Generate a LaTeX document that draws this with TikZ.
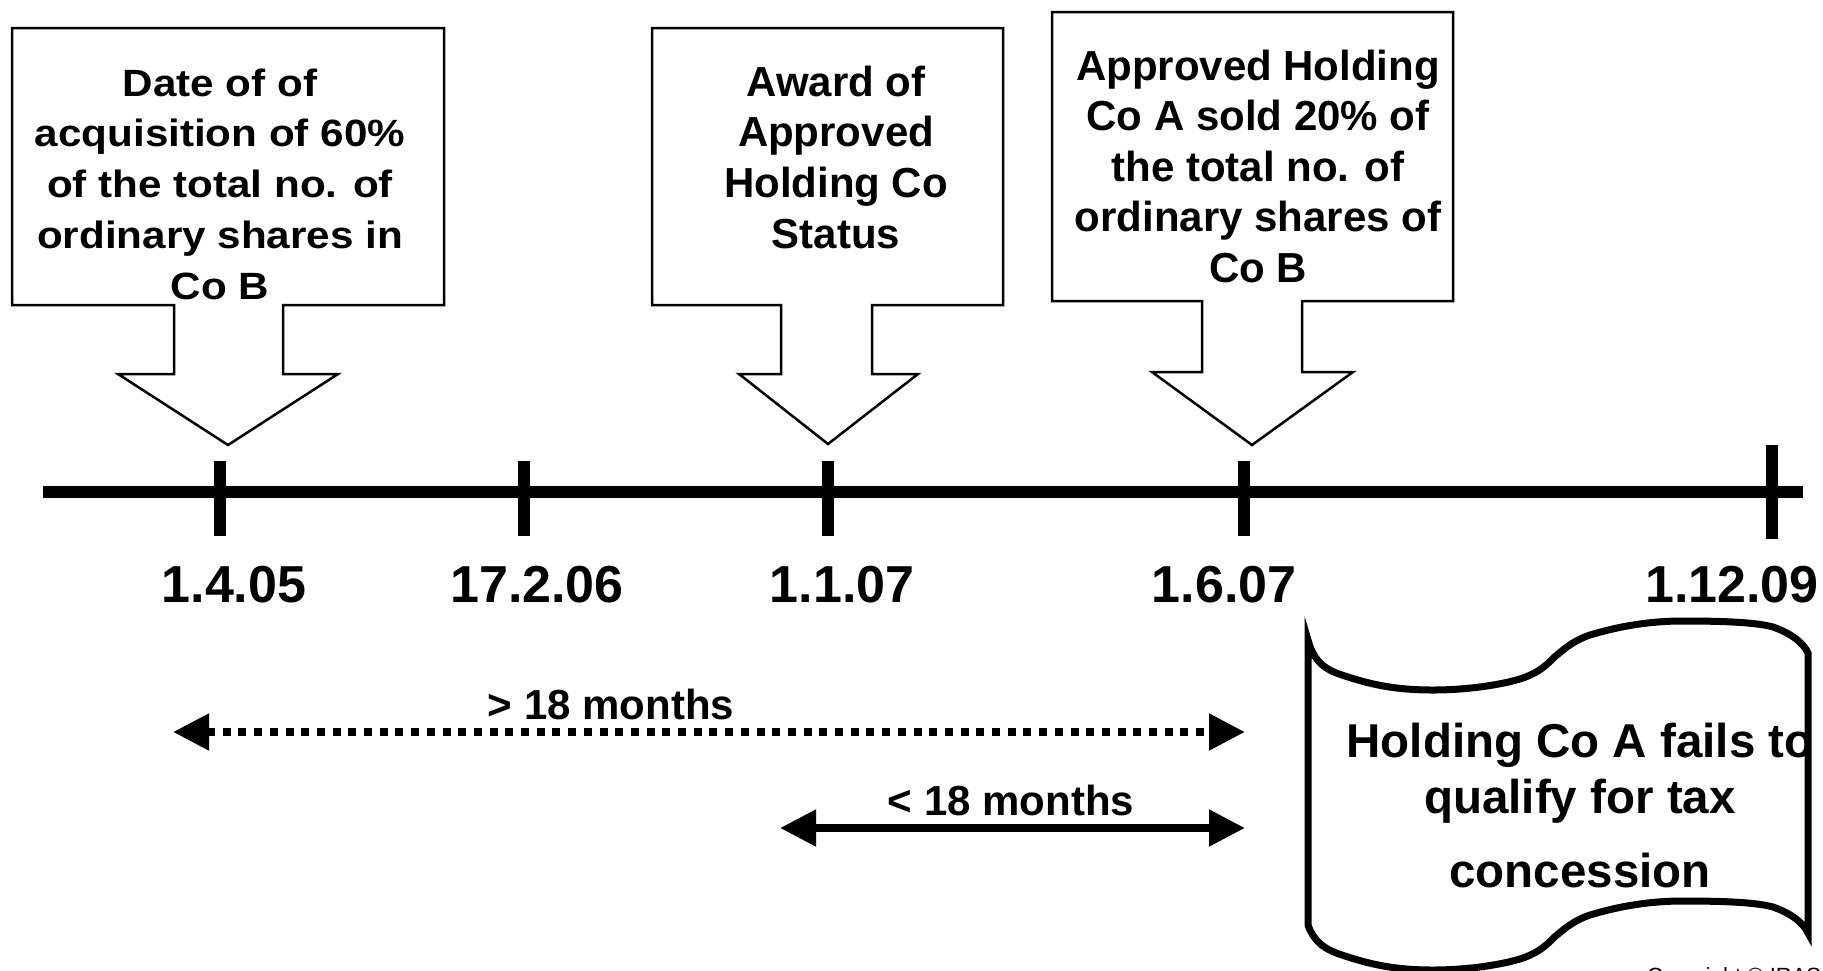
\documentclass[tikz,border=0pt]{standalone}
\usepackage{fontspec}
\setmainfont{Liberation Sans}
\newfontfamily\widefont[FakeStretch=1.11]{Liberation Sans}
\usetikzlibrary{arrows.meta}
\begin{document}
\begin{tikzpicture}[x=1pt,y=-1pt,
  callout/.style={draw=black, line width=2.5pt, fill=white, line join=miter},
  boxtext/.style={font=\fontsize{42}{50.5}\selectfont\bfseries, align=center, inner sep=0pt, anchor=north},
  datelabel/.style={font=\fontsize{52}{60}\selectfont\bfseries, inner sep=0pt, anchor=base},
  spanlabel/.style={font=\fontsize{42}{50}\selectfont\bfseries, inner sep=0pt, anchor=base},
  axisline/.style={line width=12pt},
  tickmark/.style={line width=12pt},
  durarrow/.style={line width=8pt, {Triangle[length=36pt,width=35pt]}-{Triangle[length=36pt,width=35pt]}},
  tapeshape/.style={draw=black, line width=7pt, line join=miter, fill=white}
]
\useasboundingbox (0,0) rectangle (1823,970);
\fill[white] (0,0) rectangle (1823,970);

% timeline
\coordinate (axL) at (43,492);
\coordinate (axR) at (1803,492);
\draw[axisline] (axL) -- (axR);
\coordinate (t1) at (220,492);
\coordinate (t2) at (524,492);
\coordinate (t3) at (828,492);
\coordinate (t4) at (1244,492);
\coordinate (t5) at (1772,492);
\foreach \t in {t1,t2,t3,t4}{
  \draw[tickmark] (\t) ++(0,-31) -- ++(0,75);
}
\draw[tickmark] (t5) ++(0,-47) -- ++(0,94);

% dates
\node[datelabel] (d1) at (234,602) {1.4.05};
\node[datelabel] (d2) at (537,602) {17.2.06};
\node[datelabel] (d3) at (842,602) {1.1.07};
\node[datelabel] (d4) at (1224,602) {1.6.07};
\node[datelabel] (d5) at (1732,602) {1.12.09};

% callout 1
\draw[callout] (12,28) -- (444,28) -- (444,305) -- (283,305) -- (283,374) -- (338,374) -- (228,445) -- (118,374) -- (174,374) -- (174,305) -- (12,305) -- cycle;
\node[boxtext, font=\widefont\fontsize{38}{50.7}\selectfont\bfseries] (c1) at (220,54)
  {\rule{0pt}{42pt}Date of of\\acquisition of 60\%\\of the total no. of\\ordinary shares in\\Co B};

% callout 2
\draw[callout] (652,28) -- (1003,28) -- (1003,305) -- (872,305) -- (872,374) -- (918,374) -- (828,444) -- (739,374) -- (781,374) -- (781,305) -- (652,305) -- cycle;
\node[boxtext, font=\fontsize{42}{50.7}\selectfont\bfseries] (c2) at (836,54)
  {\rule{0pt}{42pt}Award of\\Approved\\Holding Co\\Status};

% callout 3
\draw[callout] (1052,12) -- (1453,12) -- (1453,301) -- (1302,301) -- (1302,372) -- (1353,372) -- (1252,445) -- (1152,372) -- (1202,372) -- (1202,301) -- (1052,301) -- cycle;
\node[boxtext] (c3) at (1258,38)
  {\rule{0pt}{42pt}Approved Holding\\Co A sold 20\% of\\the total no. of\\ordinary shares of\\Co B};

% duration arrows
\coordinate (s1) at (173,732);
\coordinate (e1) at (1245,732);
\draw[durarrow, dash pattern=on 8pt off 7.7pt] (s1) -- (e1);
\node[spanlabel] (l1) at (611,719) {> 18 months};
\coordinate (s2) at (780,828);
\coordinate (e2) at (1245,828);
\draw[durarrow] (s2) -- (e2);
\node[spanlabel] (l2) at (1011,815) {< 18 months};

% tape shape
\draw[tapeshape] (1308,640) .. controls (1314,662) and (1325,670) .. (1345,676)
  .. controls (1375,686) and (1400,690) .. (1433,690)
  .. controls (1470,690) and (1505,684) .. (1523,678)
  .. controls (1545,670) and (1550,660) .. (1557,655)
  .. controls (1565,648) and (1575,640) .. (1590,635)
  .. controls (1620,626) and (1650,621) .. (1683,621)
  .. controls (1720,621) and (1755,622) .. (1773,627)
  .. controls (1790,633) and (1803,642) .. (1808,653)
  -- (1808,933)
  .. controls (1803,922) and (1790,913) .. (1773,907)
  .. controls (1755,902) and (1720,901) .. (1683,901)
  .. controls (1650,901) and (1620,906) .. (1590,915)
  .. controls (1575,920) and (1565,928) .. (1557,935)
  .. controls (1550,940) and (1545,950) .. (1523,958)
  .. controls (1505,964) and (1470,970) .. (1433,970)
  .. controls (1400,970) and (1375,966) .. (1345,956)
  .. controls (1325,950) and (1314,942) .. (1308,925)
  -- cycle;
\node[font=\fontsize{47.5}{56}\selectfont\bfseries, align=center, inner sep=0pt, anchor=north] (res) at (1580,709)
  {\rule{0pt}{48pt}Holding Co A fails to\\qualify for tax\\[18pt]concession};

% copyright
\node[font=\fontsize{22}{26}\selectfont, anchor=base west, inner sep=0pt] (copy) at (1647,983) {Copyright © IRAS};
\end{tikzpicture}
\end{document}
